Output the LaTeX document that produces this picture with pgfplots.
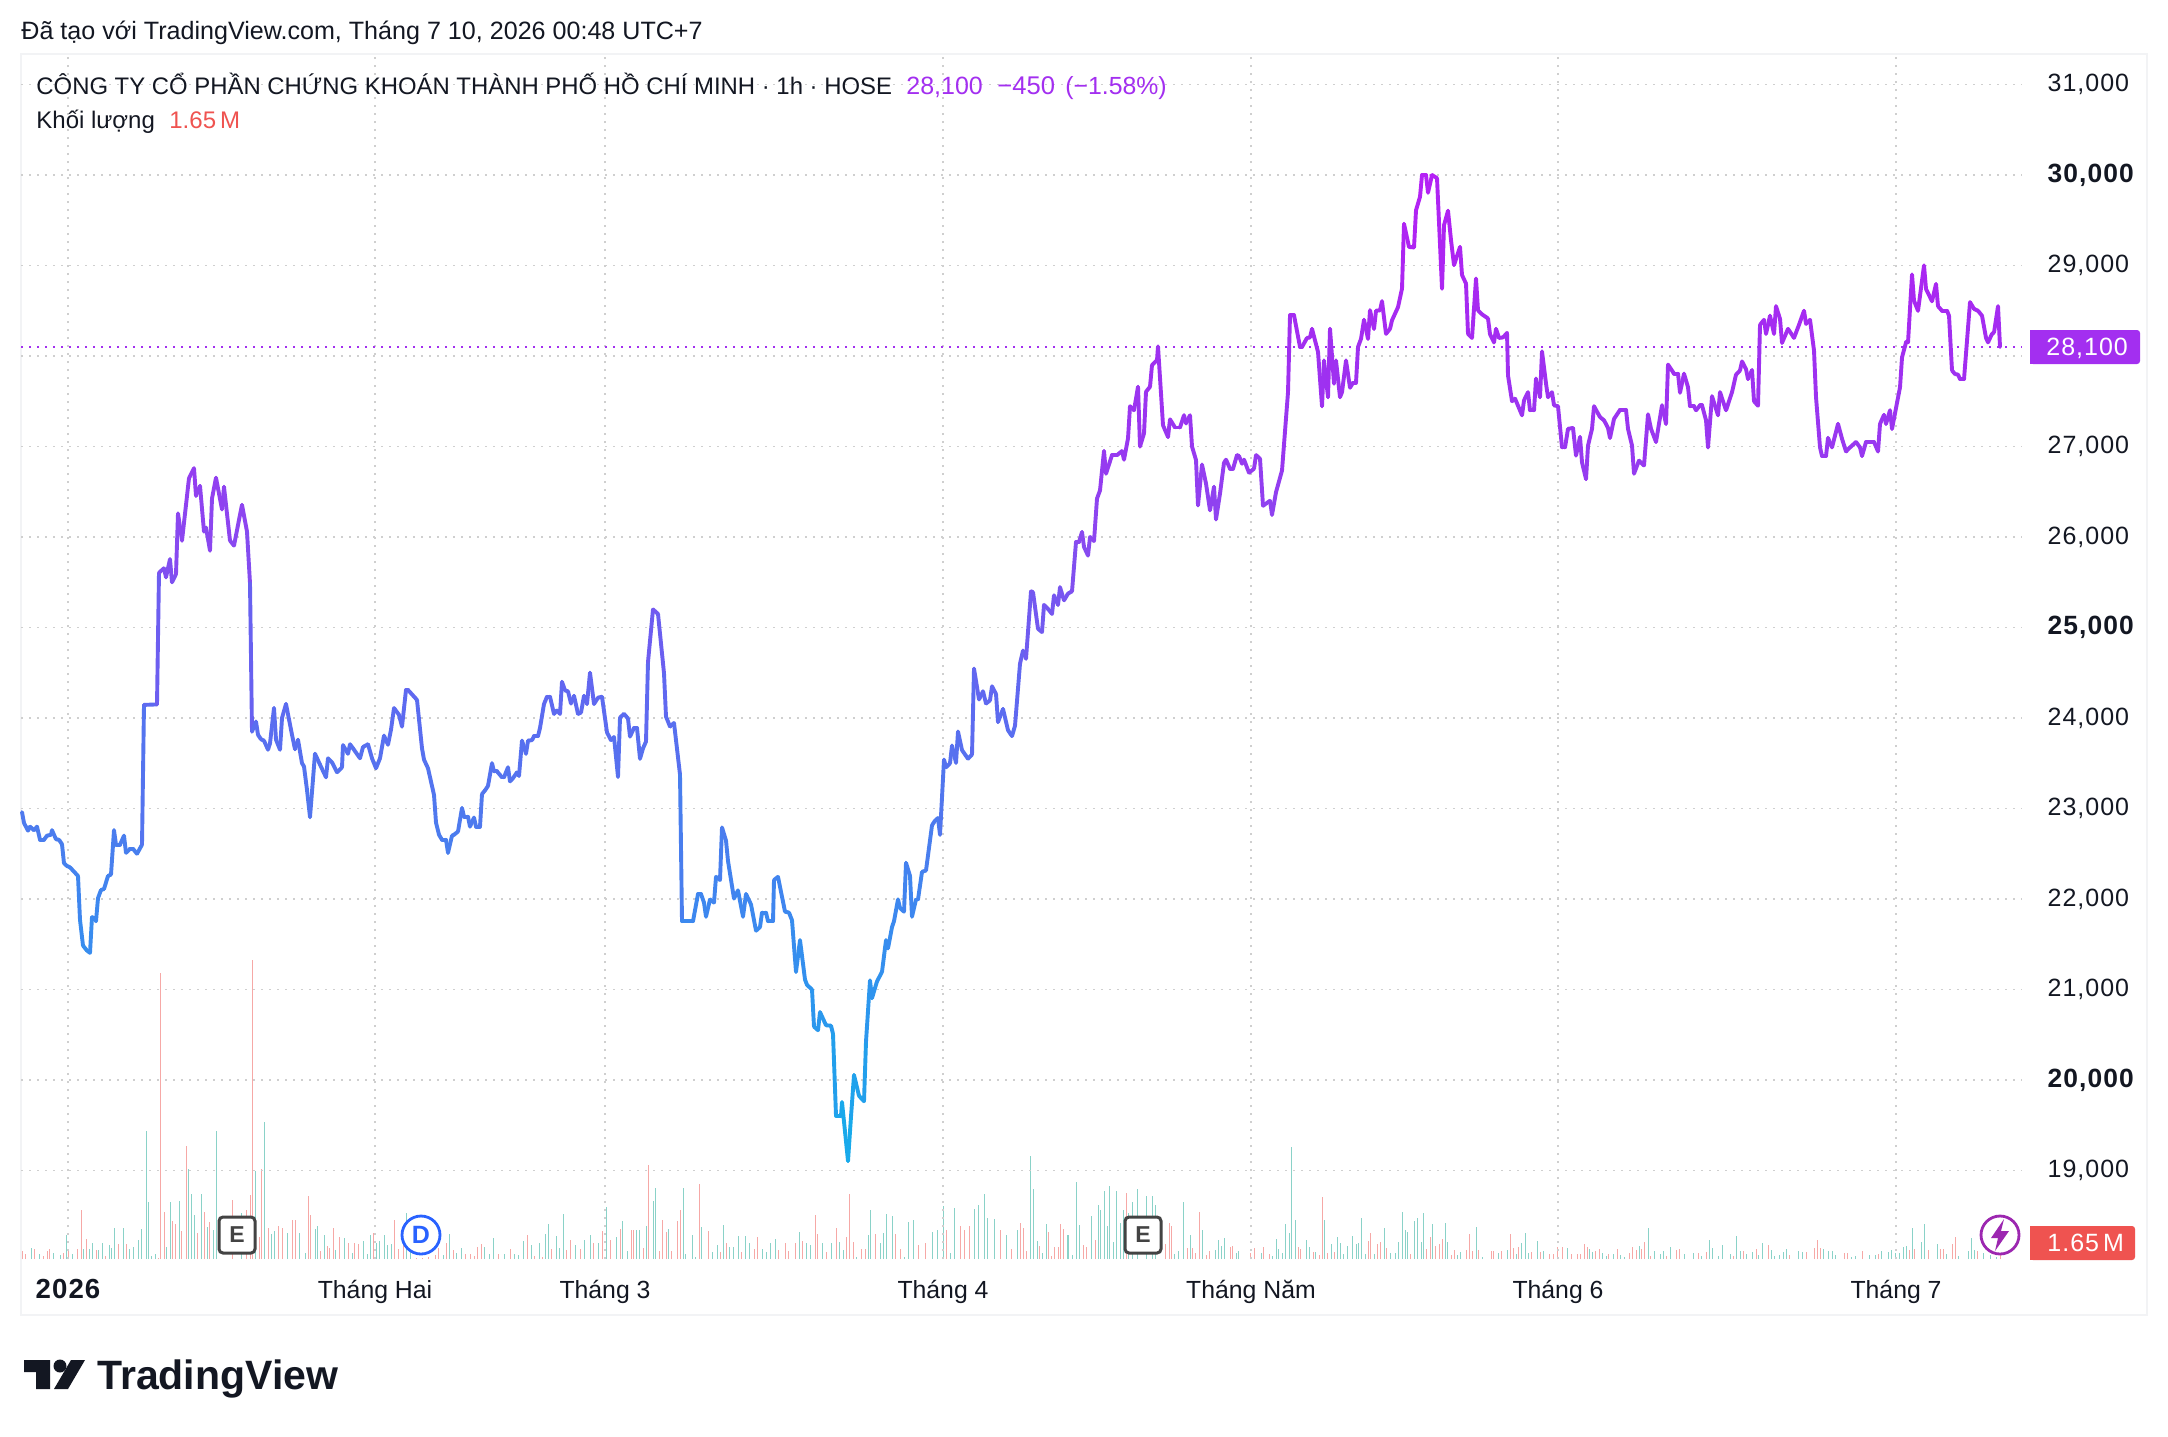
\documentclass[border=0pt]{standalone}
\usepackage{fontspec}
\setmainfont{Liberation Sans}
\newfontfamily\tickfont{Liberation Sans}[LetterSpace=4]
\usepackage{pgfplots}
\usepackage{pgfplotstable}
\pgfplotsset{compat=1.18}
\definecolor{tvink}{HTML}{131722}
\definecolor{tvgrid}{HTML}{CFCFCF}
\definecolor{tvframe}{HTML}{F2F3F5}
\definecolor{tvpurple}{HTML}{A32FF0}
\definecolor{tvred}{HTML}{EF5350}
\definecolor{volred}{HTML}{F6A8A6}
\definecolor{volteal}{HTML}{8AD2C8}
\definecolor{tvblue}{HTML}{2962FF}
\definecolor{tvviolet}{HTML}{9C27B0}
\definecolor{tvdark}{HTML}{434343}
\newcommand\bt[1]{{\fontsize{13.2}{14}\selectfont\bfseries #1}}
\pgfplotstableread{
x y
22 22960
24 22840
28 22755
30 22800
34 22760
37 22800
40 22655
44 22655
47 22700
51 22710
52 22760
56 22660
59 22655
62 22605
64 22395
67 22365
70 22350
78 22255
80 21770
83 21485
87 21430
90 21405
92 21800
94 21790
96 21755
98 22010
101 22100
104 22110
108 22255
111 22270
114 22760
116 22600
120 22600
124 22700
126 22510
130 22555
133 22555
137 22500
142 22600
144 24145
157 24150
159 25605
164 25655
166 25555
170 25755
172 25500
176 25590
178 26260
182 25960
186 26355
189 26650
194 26760
196 26455
200 26565
204 26060
206 26105
210 25850
212 26425
216 26655
222 26305
224 26555
230 25960
234 25905
237 26075
239 26190
242 26355
247 26060
250 25490
252 23850
256 23960
258 23815
261 23765
264 23750
268 23650
270 23720
274 24110
276 23760
280 23650
282 24000
286 24155
292 23815
295 23655
298 23760
302 23500
304 23465
307 23205
310 22905
315 23605
320 23485
326 23345
328 23555
332 23510
337 23400
342 23455
343 23700
348 23605
350 23710
353 23665
360 23555
363 23680
368 23710
372 23555
376 23445
380 23555
384 23805
388 23705
391 23870
394 24110
399 24035
402 23905
406 24310
408 24310
417 24200
422 23665
424 23540
428 23445
434 23150
436 22845
439 22710
442 22655
446 22655
448 22510
452 22700
454 22710
458 22745
462 23005
464 22910
468 22910
470 22800
474 22900
476 22800
480 22800
482 23160
485 23200
488 23250
492 23500
494 23410
497 23410
502 23345
504 23345
508 23455
510 23300
513 23335
517 23400
519 23360
522 23750
526 23605
528 23750
532 23755
534 23800
538 23800
540 23890
544 24155
547 24235
550 24235
554 24045
557 24085
560 24045
562 24400
565 24305
568 24295
571 24160
574 24245
578 24045
581 24060
584 24245
587 24155
590 24500
594 24155
598 24225
602 24235
607 23840
611 23755
614 23790
618 23350
620 24005
624 24045
628 23995
630 23795
634 23890
637 23890
640 23550
643 23665
646 23740
648 24620
653 25200
658 25150
664 24495
666 24015
670 23905
674 23945
680 23375
682 21755
693 21755
698 22055
701 22055
704 21960
706 21805
710 21995
714 21960
716 22245
720 22210
722 22790
726 22645
728 22420
734 22005
738 22095
743 21805
746 22055
751 21940
756 21650
760 21690
762 21850
766 21850
768 21755
773 21755
774 22210
778 22245
785 21860
789 21850
792 21765
796 21195
800 21545
805 21110
807 21050
812 21000
814 20590
818 20550
820 20750
826 20605
831 20600
833 20510
836 19605
841 19605
842 19755
848 19105
851 19595
854 20055
859 19825
864 19765
866 20425
870 21100
872 20905
877 21090
882 21195
886 21545
888 21455
892 21690
894 21755
898 21995
900 21900
904 21860
906 22400
910 22255
912 21805
916 21995
918 21995
922 22300
926 22315
932 22815
935 22865
938 22895
940 22710
944 23540
946 23455
950 23500
952 23695
956 23505
958 23850
962 23645
968 23550
972 23595
974 24545
979 24205
983 24295
986 24160
990 24195
992 24350
996 24265
998 23955
1003 24100
1008 23865
1012 23800
1015 23915
1020 24600
1023 24745
1026 24655
1031 25400
1033 25390
1038 24985
1042 24950
1044 25250
1048 25205
1052 25150
1054 25355
1058 25250
1060 25445
1064 25300
1068 25375
1072 25400
1076 25945
1079 25945
1082 26055
1084 25890
1088 25795
1090 26000
1094 25955
1097 26425
1100 26515
1104 26950
1106 26700
1112 26905
1117 26905
1122 26950
1124 26855
1128 27090
1130 27445
1134 27400
1138 27660
1140 27000
1144 27145
1146 27605
1150 27660
1152 27900
1157 27955
1158 28105
1163 27235
1168 27105
1170 27300
1175 27210
1180 27210
1184 27345
1186 27255
1190 27345
1192 27000
1196 26850
1198 26350
1202 26800
1206 26590
1210 26295
1214 26555
1216 26195
1220 26480
1224 26820
1226 26855
1230 26755
1233 26755
1237 26905
1239 26895
1242 26810
1244 26855
1249 26710
1254 26755
1256 26905
1260 26865
1263 26345
1268 26385
1270 26400
1272 26245
1276 26495
1282 26735
1288 27600
1290 28450
1294 28450
1300 28100
1302 28100
1307 28200
1310 28205
1312 28300
1318 28045
1322 27445
1324 27950
1328 27545
1330 28300
1334 27695
1336 27950
1340 27545
1342 27600
1346 27950
1350 27650
1353 27705
1356 27705
1358 28100
1361 28190
1364 28400
1368 28190
1370 28505
1374 28300
1376 28500
1380 28505
1382 28605
1386 28245
1390 28300
1392 28395
1398 28540
1402 28745
1404 29460
1409 29205
1414 29200
1416 29610
1420 29760
1422 30000
1426 30000
1428 29805
1432 30000
1437 29965
1442 28745
1444 29445
1448 29605
1451 29280
1454 29005
1460 29205
1462 28895
1466 28800
1468 28245
1472 28200
1476 28855
1478 28505
1482 28460
1488 28415
1490 28240
1494 28150
1496 28300
1499 28200
1503 28205
1507 28255
1508 27785
1512 27500
1515 27530
1522 27345
1524 27510
1528 27600
1530 27400
1534 27400
1536 27750
1540 27545
1542 28050
1546 27695
1548 27545
1552 27600
1554 27455
1558 27445
1562 26990
1565 26990
1568 27195
1573 27205
1576 26900
1580 27105
1582 26825
1586 26640
1588 27010
1592 27195
1594 27445
1600 27325
1604 27290
1608 27205
1610 27095
1614 27305
1620 27405
1626 27405
1628 27195
1632 27010
1634 26700
1639 26845
1644 26790
1648 27355
1651 27195
1656 27050
1662 27455
1666 27250
1668 27905
1674 27805
1678 27805
1680 27595
1684 27805
1688 27655
1690 27445
1694 27445
1696 27400
1700 27455
1702 27455
1706 27290
1708 26990
1712 27555
1718 27345
1720 27600
1726 27400
1732 27600
1736 27795
1740 27840
1742 27940
1746 27855
1748 27745
1752 27845
1754 27500
1758 27450
1760 28345
1764 28400
1766 28245
1770 28445
1774 28245
1776 28550
1780 28410
1782 28145
1788 28300
1794 28200
1799 28345
1804 28500
1806 28355
1810 28400
1814 28060
1816 27545
1820 26990
1822 26895
1826 26895
1828 27095
1832 26990
1838 27250
1842 27085
1846 26945
1850 26990
1856 27050
1860 26990
1862 26895
1866 27050
1874 27050
1878 26945
1880 27250
1884 27350
1886 27250
1890 27400
1892 27195
1900 27655
1902 27985
1906 28150
1908 28150
1912 28900
1914 28610
1918 28500
1924 29000
1926 28740
1932 28605
1936 28795
1938 28550
1942 28500
1947 28500
1949 28445
1952 27840
1955 27800
1958 27795
1960 27745
1964 27745
1970 28595
1974 28520
1978 28500
1982 28445
1986 28200
1988 28150
1992 28245
1994 28260
1998 28550
2000 28100
}\pricetable
\pgfplotstableread{
x v
22 .8
25 .55
34 1.05
43 .3
47 .8
49 1.05
63 .65
68 .9
77 1.05
81 5.0
86 2.1
96 .9
105 .3
118 1.5
126 1.5
158 .15
160 29.5
164 4.8
172 3.9
175 3.65
181 2.9
186 11.6
197 2.7
204 4.85
209 3.8
232 6.1
246 5.0
250 6.55
252 30.8
259 2.25
261 9.3
268 3.15
278 3.45
282 3.2
292 4.05
295 4.05
308 6.45
310 4.5
320 .8
327 1.3
329 1.15
333 3.2
339 2.25
348 1.6
354 1.7
358 1.5
373 2.7
394 4.0
398 1.0
403 2.25
416 .15
422 .15
428 .2
435 .4
438 1.15
446 1.65
453 .9
465 .55
470 .55
474 .3
477 1.25
481 1.5
498 .55
510 1.0
527 2.45
534 .3
542 .2
551 1.05
566 .9
570 2.0
580 1.0
593 1.65
602 2.85
610 2.0
620 3.1
631 2.95
633 2.95
643 1.15
648 9.7
659 .8
662 4.05
666 2.75
671 .8
677 3.9
680 5.05
699 7.7
708 2.85
720 .7
726 1.6
741 .7
754 1.05
757 2.25
778 .9
785 1.7
788 .8
795 1.6
802 1.85
815 4.5
817 2.55
826 .7
836 3.15
846 2.25
849 6.7
853 1.75
861 1.0
865 1.0
875 2.6
895 2.6
900 1.05
918 1.4
925 1.7
946 2.95
960 3.45
964 3.0
969 3.45
1000 3.0
1011 1.05
1020 3.75
1023 3.2
1026 .85
1039 1.35
1048 2.8
1051 .3
1054 1.25
1058 1.2
1060 3.6
1063 3.1
1083 1.45
1086 1.25
1095 1.95
1126 6.75
1165 1.55
1169 3.75
1171 3.4
1187 1.15
1192 1.15
1195 .6
1199 4.85
1206 .4
1209 .85
1230 1.25
1232 1.35
1250 .65
1254 1.15
1263 1.25
1269 .5
1298 1.25
1300 1.05
1313 .7
1319 .4
1322 6.4
1327 .65
1334 .7
1368 1.85
1370 2.7
1377 1.55
1380 1.75
1386 1.1
1410 .5
1426 1.0
1430 2.3
1435 1.35
1439 1.55
1442 2.05
1451 .4
1454 .9
1466 .9
1469 2.55
1472 .85
1478 .9
1491 .8
1493 .8
1501 .85
1510 2.55
1513 1.15
1518 1.25
1531 .75
1540 .75
1549 .5
1553 .5
1557 1.2
1562 1.25
1571 .5
1577 .5
1580 .5
1584 1.55
1587 1.2
1595 .85
1599 1.05
1608 .5
1617 1.05
1629 .65
1632 1.2
1636 .9
1641 1.0
1644 1.75
1650 .3
1666 .3
1676 .9
1679 1.0
1698 .6
1706 .7
1733 .3
1743 .8
1756 1.05
1768 1.45
1789 .4
1806 .7
1814 1.15
1817 1.95
1820 1.15
1844 .6
1847 .6
1862 .85
1878 .5
1909 .9
1914 1.05
1928 .9
1940 1.05
1943 1.05
1952 1.55
1955 2.25
1977 .85
2000 1.65
}\volredtable
\pgfplotstableread{
x v
31 1.15
39 .5
53 .6
60 .4
66 2.5
72 .55
83 1.05
89 1.05
92 1.7
98 .9
102 1.6
109 1.4
111 1.15
114 3.15
123 3.2
129 1.0
133 1.25
138 2.0
141 3.1
146 13.2
148 5.85
151 .3
155 .5
166 1.25
170 5.85
179 6.0
188 9.3
191 6.7
194 4.5
201 6.7
207 3.3
213 2.95
216 13.2
241 4.7
255 9.05
264 14.1
271 2.55
274 2.9
287 2.7
299 2.65
305 .6
315 3.1
317 3.35
324 2.45
335 .9
344 2.2
352 .6
363 1.9
367 .55
370 2.45
376 1.6
379 1.9
384 2.45
387 1.4
391 1.5
406 4.75
410 .95
443 .4
449 2.55
456 .65
461 1.15
484 1.25
489 .55
493 2.2
504 .5
514 .55
518 .4
523 1.9
531 1.45
539 1.6
545 2.6
548 3.65
556 2.35
559 1.15
563 4.65
575 1.4
584 2.0
590 2.45
598 1.65
606 5.35
616 2.25
622 3.9
627 .8
636 2.95
639 2.95
646 3.45
653 5.95
655 7.35
668 3.1
683 7.35
685 .5
692 2.45
695 .2
701 3.3
712 .7
717 1.4
723 3.55
729 1.25
733 1.25
738 2.35
745 2.35
749 1.6
762 1.05
766 .7
770 1.6
775 2.1
799 2.75
806 1.6
810 1.4
822 1.7
831 1.7
839 1.75
843 .95
856 .2
868 2.45
870 5.0
880 1.6
883 2.7
886 4.65
892 4.4
904 .2
908 3.8
913 4.0
932 2.75
937 3.0
943 5.5
950 .6
954 5.25
974 5.1
978 5.6
984 6.65
987 4.2
994 4.15
1006 2.45
1017 2.95
1030 10.6
1033 7.2
1037 1.85
1042 .6
1046 3.6
1067 2.45
1068 2.45
1072 .4
1076 7.9
1079 3.5
1091 4.4
1098 5.55
1100 5.05
1104 7.0
1107 3.4
1109 7.5
1113 1.8
1116 7.0
1120 3.75
1123 5.05
1128 4.7
1132 5.85
1137 7.25
1146 6.5
1152 6.5
1155 5.55
1174 .5
1178 .8
1183 5.85
1190 2.45
1202 3.0
1215 .9
1218 1.95
1221 1.35
1224 2.2
1236 .65
1238 .8
1261 .65
1272 .3
1276 2.05
1278 1.0
1282 .65
1285 3.6
1289 2.7
1291 11.5
1295 4.0
1306 1.95
1309 1.25
1315 .7
1324 4.0
1331 1.55
1337 2.25
1340 1.6
1343 .5
1347 1.35
1352 2.35
1356 1.55
1358 1.6
1361 4.2
1365 .5
1374 .5
1384 3.2
1390 .6
1395 .65
1398 1.75
1402 4.85
1405 3.0
1407 2.8
1414 3.95
1417 4.2
1421 1.75
1423 4.7
1432 3.6
1445 3.75
1447 1.8
1457 .4
1460 .7
1476 3.3
1482 .25
1498 .6
1507 .9
1516 .5
1521 1.6
1525 2.7
1528 .65
1537 1.85
1543 .8
1567 1.15
1589 1.0
1592 .75
1602 .65
1606 .3
1613 .5
1620 .4
1624 .25
1639 1.35
1648 3.2
1654 .85
1660 .5
1663 .85
1670 1.25
1684 .5
1693 .6
1701 .3
1709 1.95
1712 1.15
1718 .3
1722 1.45
1730 .5
1736 2.35
1740 .85
1746 .5
1752 .75
1758 .4
1762 1.7
1771 .9
1774 .35
1779 .4
1783 .7
1786 1.05
1798 .8
1802 .7
1823 1.05
1828 .8
1832 .85
1835 .4
1851 .25
1855 .35
1869 .4
1875 .4
1881 .8
1888 .75
1891 .9
1895 .6
1899 .6
1903 1.25
1906 1.35
1912 3.2
1921 1.75
1924 3.65
1937 1.55
1946 .5
1958 .3
1968 .85
1971 2.15
1974 .9
1983 .6
1990 .4
1996 .25
}\voltealtable
\begin{document}
\begin{tikzpicture}
\path[use as bounding box,fill=white] (0pt,0pt) rectangle (1084pt,-718pt);
% panel frame
\begin{scope}[x=0.5pt,y=-0.5pt]
\draw[tvframe,line width=1pt] (21,54) rectangle (2147,1315);
\end{scope}
% volume axis
\begin{axis}[
  at={(10.5pt,-629.5pt)},anchor=south west,
  scale only axis,width=1000.5pt,height=602.5pt,
  xmin=21,xmax=2022,ymin=0,ymax=124.1,
  axis lines=none,ticks=none,clip=false]
\addplot[ycomb,volred,line width=0.42pt,mark=none] table[x=x,y=v]{\volredtable};
\addplot[ycomb,volteal,line width=0.42pt,mark=none] table[x=x,y=v]{\voltealtable};
\end{axis}
% price axis
\begin{axis}[
  at={(10.5pt,-629.5pt)},anchor=south west,
  scale only axis,width=1000.5pt,height=602.5pt,
  xmin=21,xmax=2022,ymin=18022,ymax=31337,
  axis line style={draw=none},
  major tick length=0pt,
  scaled y ticks=false,scaled x ticks=false,
  ytick pos=right,yticklabel pos=right,
  xtick pos=bottom,
  xtick={68,375,605,943,1251,1558,1896},
  xticklabels={{\tickfont\fontsize{13.8}{14}\selectfont\bfseries 2026},Tháng Hai,Tháng 3,Tháng 4,Tháng Năm,Tháng 6,Tháng 7},
  ytick={19000,20000,21000,22000,23000,24000,25000,26000,27000,28000,29000,30000,31000},
  yticklabels={{19,000},{\bt{20,000}},{21,000},{22,000},{23,000},{24,000},{\bt{25,000}},{26,000},{27,000},{},{29,000},{\bt{30,000}},{31,000}},
  xmajorgrids,ymajorgrids,
  grid style={tvgrid,line width=0.8pt,dash pattern=on 1pt off 3pt},
  xticklabel style={font=\fontsize{12.4}{14}\selectfont,text=tvink,anchor=base,yshift=-19.5pt},
  yticklabel style={font=\tickfont\fontsize{12.5}{14}\selectfont,text=tvink,anchor=west,xshift=9.3pt},
  colormap={tv}{rgb255=(18,176,234) rgb255=(34,160,236) rgb255=(47,148,238) rgb255=(63,134,239) rgb255=(80,120,238) rgb255=(91,108,240) rgb255=(111,92,240) rgb255=(138,72,240) rgb255=(152,56,240) rgb255=(160,47,240) rgb255=(172,38,242) rgb255=(181,33,245)},
  point meta min=19000,point meta max=30000,
  clip=false]
\addplot[tvpurple,line width=0.9pt,dash pattern=on 0.9pt off 3.1pt,forget plot] coordinates {(21,28100) (2022,28100)};
\addplot[mesh,point meta=y,line width=1.95pt,line cap=round,line join=round,mark=none] table[x=x,y=y]{\pricetable};
\end{axis}
% decorations and texts in reference pixels
\begin{scope}[x=0.5pt,y=-0.5pt,every node/.style={inner sep=0pt,font=\fontsize{12}{14}\selectfont,text=tvink}]
\node[anchor=base west,font=\fontsize{12.55}{14}\selectfont] at (21,39) {Đã tạo với TradingView.com, Tháng 7 10, 2026 00:48 UTC+7};
\node[anchor=base west,font=\fontsize{11.95}{14}\selectfont] at (36,94) {CÔNG TY CỔ PHẦN CHỨNG KHOÁN THÀNH PHỐ HỒ CHÍ MINH · 1h · HOSE};
\node[anchor=base west,text=tvpurple,font=\fontsize{12.5}{14}\selectfont] at (906,94) {28,100};
\node[anchor=base west,text=tvpurple,font=\fontsize{12.8}{14}\selectfont] at (997,94) {−450};
\node[anchor=base west,text=tvpurple,font=\fontsize{12.4}{14}\selectfont] at (1065,94) {(−1.58\%)};
\node[anchor=base west] at (36,128) {Khối lượng};
\node[anchor=base west,text=tvred] at (169,128) {1.65\,M};
% price and volume tags
\fill[tvpurple,rounded corners=1.5pt] (2030,330) rectangle (2140,364);
\fill[tvpurple] (2030,330) rectangle (2036,364);
\node[anchor=base west,text=white,font=\tickfont\fontsize{12.5}{14}\selectfont] at (2046,355) {28,100};
\fill[tvred,rounded corners=1.5pt] (2030,1226) rectangle (2135,1260);
\fill[tvred] (2030,1226) rectangle (2036,1260);
\node[anchor=base west,text=white,font=\tickfont\fontsize{12.5}{14}\selectfont] at (2047,1251) {1.65\,M};
% earnings and dividend markers
\draw[tvdark,fill=white,line width=1.5pt,rounded corners=2pt] (219,1217) rectangle (255,1253);
\node[text=tvdark,font=\fontsize{11.5}{13}\selectfont\bfseries] at (237,1235) {E};
\draw[tvdark,fill=white,line width=1.5pt,rounded corners=2pt] (1125,1217) rectangle (1161,1253);
\node[text=tvdark,font=\fontsize{11.5}{13}\selectfont\bfseries] at (1143,1235) {E};
\draw[tvblue,fill=white,line width=1.4pt] (421,1235) circle[radius=19];
\node[text=tvblue,font=\fontsize{12.5}{13}\selectfont\bfseries] at (421,1235) {D};
\draw[tvviolet,fill=white,line width=1.4pt] (2000,1235) circle[radius=19];
\fill[tvviolet] (2004,1219) -- (1991,1238) -- (1998,1238) -- (1995,1251) -- (2009,1231) -- (2001,1231) -- cycle;
% logo
\fill[tvink] (24,1360) -- (50,1360) -- (50,1389) -- (36,1389) -- (36,1372) -- (24,1372) -- cycle;
\fill[tvink] (60,1366) circle[radius=6.5];
\fill[tvink] (71,1360) -- (85,1360) -- (68,1389) -- (54,1389) -- cycle;
\node[anchor=base west,font=\fontsize{20.5}{24}\selectfont\bfseries] at (97,1389) {TradingView};
\end{scope}
\end{tikzpicture}
\end{document}
